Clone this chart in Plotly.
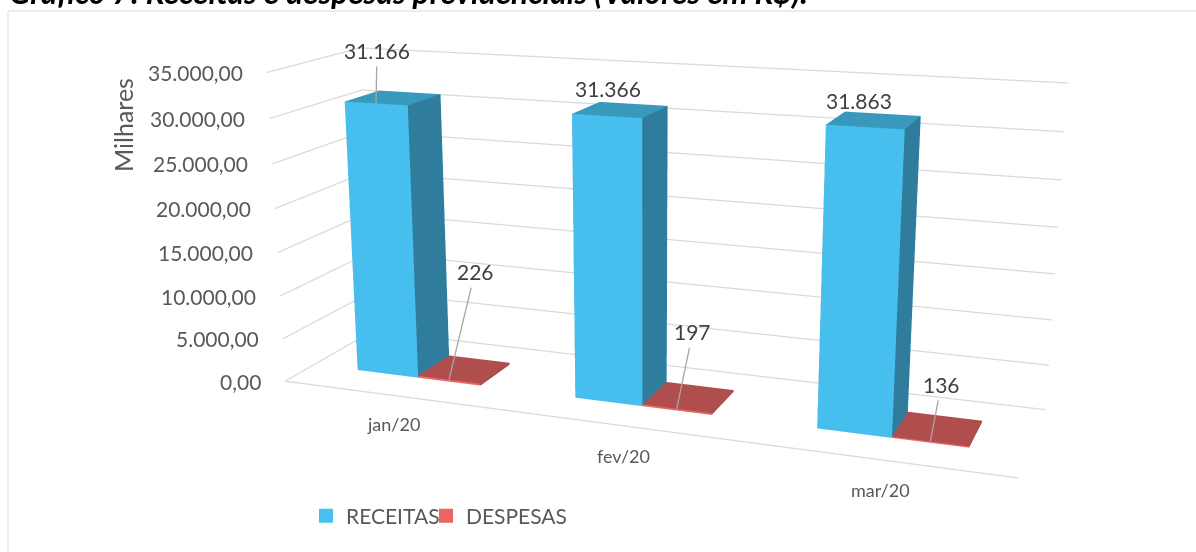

import plotly.graph_objects as go

categories = ["jan/20", "fev/20", "mar/20"]
receitas = [31166, 31366, 31863]
despesas = [226, 197, 136]
receitas_labels = ["31.166", "31.366", "31.863"]
despesas_labels = ["226", "197", "136"]
z_ticks = [0, 5000, 10000, 15000, 20000, 25000, 30000, 35000]
z_ticktext = ["0,00", "5.000,00", "10.000,00", "15.000,00", "20.000,00", "25.000,00", "30.000,00", "35.000,00"]

# Camera and box proportions of the 3D scene
EYE = dict(x=1.69504, y=-4.71152, z=1.27643)
CENTER = dict(x=-0.10160, y=-0.21465, z=-0.06652)
UP = dict(x=0.00543, y=0.00710, z=1)
ASPECT = dict(x=2.32258, y=0.57929, z=1)
GAP, DEPTH, YC = 0.42358, 0.38757, 0.50575

# The scene needs a tall viewport for its long focal length; the page shows a 1196x552 window onto it
FW, FH, OFF = 1196, 1400, 424
def PXX(x): return x / FW
def PYY(y): return 1 - (y + OFF) / FH

BLUE_F, BLUE_S, BLUE_T = "#46BFEF", "#2F7C9C", "#3899BD"
RED_F, RED_S, RED_T = "#EC6464", "#A84848", "#B04D4D"
GRID = "#D9D9D9"
FONT = "Lato"

cat_shift = [(2, -29), (2, -30), (2, -31)]
rec_shift = [(1, -53), (1, -28), (-6, -27)]
des_shift = [(26, -108), (16, -77), (11, -57)]

def bar(x0, x1, y0, y1, z, colors, name):
    xs = [x0, x1, x1, x0, x0, x1, x1, x0]
    ys = [y0, y0, y1, y1, y0, y0, y1, y1]
    zs = [0, 0, 0, 0, z, z, z, z]
    I = [0, 0, 1, 1, 2, 2, 3, 3, 4, 4, 0, 0]
    J = [1, 2, 2, 6, 3, 7, 0, 4, 5, 6, 1, 5]
    K = [2, 3, 6, 5, 7, 6, 4, 7, 6, 7, 5, 4]
    fc = [colors[2]]*2 + [colors[1]]*2 + [colors[0]]*2 + [colors[1]]*2 + [colors[2]]*2 + [colors[0]]*2
    return go.Mesh3d(x=xs, y=ys, z=zs, i=I, j=J, k=K, facecolor=fc, flatshading=True,
                     lighting=dict(ambient=1, diffuse=0, specular=0, fresnel=0, roughness=1),
                     hoverinfo="skip", showlegend=False, name=name)

fig = go.Figure()
w = (1 - GAP) / 2
y0, y1 = YC - DEPTH / 2, YC + DEPTH / 2
for i in range(len(categories)):
    x0 = i + GAP / 2
    fig.add_trace(bar(x0, x0 + w, y0, y1, receitas[i], (BLUE_F, BLUE_S, BLUE_T), "RECEITAS"))
    fig.add_trace(bar(x0 + w, x0 + 2 * w, y0, y1, despesas[i], (RED_F, RED_S, RED_T), "DESPESAS"))
for v in z_ticks:
    fig.add_trace(go.Scatter3d(x=[0, 0, 3], y=[0, 1, 1], z=[v, v, v], mode="lines",
                               line=dict(color=GRID, width=2.5), hoverinfo="skip", showlegend=False))
fig.add_trace(go.Scatter3d(x=[3, 0, 0], y=[0, 0, 1], z=[0, 0, 0], mode="lines",
                           line=dict(color=GRID, width=2.5), hoverinfo="skip", showlegend=False))
fig.add_trace(go.Scatter(x=[None], y=[None], mode="markers", name="RECEITAS", legend="legend",
                         marker=dict(symbol="square", size=14, color="#47BFEF")))
fig.add_trace(go.Scatter(x=[None], y=[None], mode="markers", name="DESPESAS", legend="legend2",
                         marker=dict(symbol="square", size=14, color="#EC6464")))

ann = []
for v, t in zip(z_ticks, z_ticktext):
    ann.append(dict(x=0, y=0, z=v, text=t, showarrow=False, xanchor="right", xshift=-22,
                    font=dict(family=FONT, size=21, color="#595959")))
for i, c in enumerate(categories):
    ann.append(dict(x=i + .5, y=0, z=0, text=c, showarrow=False, xshift=cat_shift[i][0], yshift=cat_shift[i][1],
                    font=dict(family=FONT, size=18, color="#595959")))
LAB = dict(family=FONT, size=21, color="#404040")
LEAD = dict(showarrow=True, arrowhead=0, arrowwidth=1.3, arrowcolor="#A6A6A6", borderpad=3)
for i in range(len(categories)):
    x0 = i + GAP / 2
    if i == 0:
        ann.append(dict(x=x0 + w / 2, y=y0, z=receitas[i], text=receitas_labels[i],
                        ax=rec_shift[i][0], ay=rec_shift[i][1], font=LAB, **LEAD))
    else:
        ann.append(dict(x=x0 + w / 2, y=y0, z=receitas[i], text=receitas_labels[i], showarrow=False,
                        xshift=rec_shift[i][0], yshift=-rec_shift[i][1], font=LAB))
    ann.append(dict(x=x0 + 1.5 * w, y=y0, z=despesas[i], text=despesas_labels[i],
                    ax=des_shift[i][0], ay=des_shift[i][1], font=LAB, **LEAD))

hidden = dict(showgrid=False, zeroline=False, showticklabels=False, showline=False,
              showbackground=False, showspikes=False, title="", ticks="")
LEG = dict(orientation="h", y=PYY(516), xanchor="left", yanchor="middle", bgcolor="rgba(0,0,0,0)",
           font=dict(family=FONT, size=21, color="#595959"))
fig.update_layout(
    width=FW, height=FH, margin=dict(l=0, r=0, t=0, b=0), paper_bgcolor="white", plot_bgcolor="white",
    xaxis=dict(visible=False), yaxis=dict(visible=False),
    scene=dict(domain=dict(x=[0, 1], y=[0, 1]), dragmode="orbit",
               xaxis=dict(range=[0, 3], **hidden), yaxis=dict(range=[0, 1], **hidden),
               zaxis=dict(range=[0, 35000], tickvals=z_ticks, **hidden),
               aspectmode="manual", aspectratio=ASPECT,
               camera=dict(eye=EYE, center=CENTER, up=UP, projection=dict(type="perspective")),
               annotations=ann),
    legend=dict(x=PXX(306), **LEG),
    legend2=dict(x=PXX(426), **LEG),
    annotations=[
        dict(xref="paper", yref="paper", x=PXX(123), y=PYY(125), xanchor="center", yanchor="middle",
             text="Milhares", textangle=-90, showarrow=False, font=dict(family=FONT, size=25, color="#595959")),
        dict(xref="paper", yref="paper", x=PXX(7), y=PYY(13), xanchor="left", yanchor="bottom",
             text="<b><i>Gráfico 7: Receitas e despesas previdenciais (Valores em R$).</i></b>",
             showarrow=False, font=dict(family=FONT, size=31.6, color="black")),
    ],
    shapes=[dict(type="rect", xref="paper", yref="paper", x0=PXX(8), x1=1.01, y0=-0.05, y1=PYY(11),
                 line=dict(color=GRID, width=1), layer="below")],
)
fig.write_html("out.html", post_script=f"document.documentElement.style.overflow='hidden';document.body.style.overflow='hidden';document.body.style.margin='-{OFF}px 0 0 0';")
